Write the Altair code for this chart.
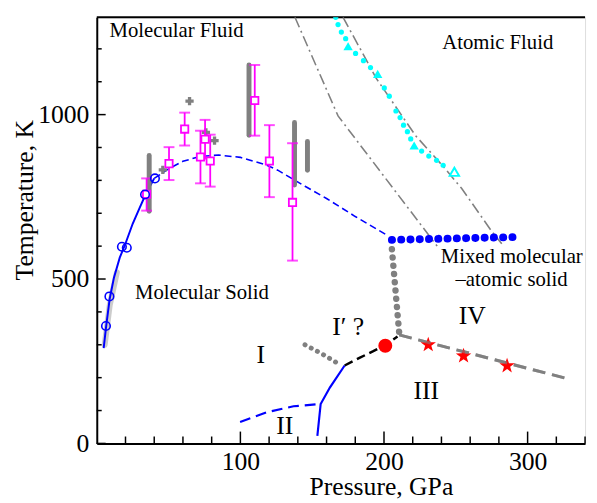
import altair as alt
import pandas as pd

P_MAX = 340
T_MAX = 1296
W = 495
H = 432
FONT = "Liberation Serif"

# ---- data ----
melt_solid_P = [4.8, 6.5, 9, 12, 16, 20, 25, 30, 34, 40]
melt_solid_T = [290, 355, 440, 505, 565, 608, 668, 718, 757, 806]
melt_band_P = [5.5, 9, 14]
melt_band_T = [300, 420, 520]
melt_dash_P = [40, 50, 60, 72, 85, 100, 118, 126, 145, 160, 180, 201]
melt_dash_T = [806, 835, 858, 873, 877, 870, 847, 831, 782, 745, 690, 636]

circ_P = [6.4, 8.8, 17.5, 20.9, 33.6, 40.5]
circ_T = [357, 447, 598, 595, 757, 806]

sq_P = [34.7, 50.3, 61.2, 72.2, 75.4, 79.0, 110, 120.2, 136.3]
sq_T = [758, 851, 956, 871, 925, 859, 1043, 859, 733]
sq_lo = [708, 801, 906, 791, 866, 781, 936, 749, 556]
sq_hi = [806, 901, 1006, 951, 984, 939, 1151, 968, 913]

bar_P = [36.5, 106, 137.7, 146.7]
bar_lo = [706, 937, 786, 831]
bar_hi = [876, 1151, 976, 918]

plus_P = [46, 64.6, 76, 82]
plus_T = [832, 1041, 946, 921]

cyan_P = [166.4, 168, 170.3, 173.3, 180.2, 185.7, 190.6, 200.2, 203.7, 208.3,
          211.2, 213.6, 216.3, 218.6, 226.2, 231.2, 236.6, 241.2]
cyan_T = [1296, 1274, 1251, 1231, 1186, 1164, 1143, 1081, 1056, 1011,
          991, 968, 948, 926, 889, 874, 861, 846]
tri_P = [175, 195.6, 221]
tri_T = [1208, 1124, 906]
tri_open_P = [249]
tri_open_T = [826]

dd_a_P = [138, 168, 237]
dd_a_T = [1296, 996, 600]
dd_b_P = [171.5, 194.5, 222, 240.5, 254, 275, 282]
dd_b_T = [1296, 1111, 936, 846, 776, 645, 607]

mixed_P = [205.5, 295]
mixed_T = [619, 628]
vdot_P = [205.5, 210.6]
vdot_T = [591, 335]
iii_iv_P = [210.6, 326.7]
iii_iv_T = [330, 198]
star_P = [230.8, 255.4, 285.7]
star_T = [300, 266, 236]
red_P = [200.9]
red_T = [297]
black_P = [172.6, 182.9, 192.2, 201, 209.4]
black_T = [237, 260, 280, 300, 325]
i_ip_P = [145, 157, 170.3]
i_ip_T = [300, 272, 237]
i_iii_P = [153.6, 155.9, 162.3, 172.6]
i_iii_T = [23, 120, 170, 237]
i_ii_P = [99.8, 118.6, 137, 155.9]
i_ii_T = [65, 95, 113, 120]

labels = ["Molecular Fluid", "Atomic Fluid", "Molecular Solid", "Mixed molecular",
          "\u2013atomic solid"]
label_P = [8.9, 240.6, 26.6, 239.5, 249.8]
label_T = [1235, 1200, 438, 550, 480]
roman = ["IV", "I\u2032 ?", "I", "II", "III"]
roman_P = [252, 164, 111.3, 125, 220.5]
roman_T = [363, 330, 245, 28, 135]

x_major = [100, 200, 300]
x_minor = [20, 40, 60, 80, 120, 140, 160, 180, 220, 240, 260, 280, 320, 340]
y_major = [0, 500, 1000]
y_minor = [100, 200, 300, 400, 600, 700, 800, 900, 1100, 1200]

# ---- encodings ----
xs = alt.Scale(domain=[0, P_MAX], nice=False, zero=False)
ys = alt.Scale(domain=[0, T_MAX], nice=False, zero=False)
xaxis = alt.Axis(values=x_major, ticks=False, grid=False, labelFont=FONT, labelFontSize=26,
                 labelColor="black", labelPadding=5, domainColor="black", domainWidth=2,
                 title="Pressure, GPa", titleFont=FONT, titleFontSize=26, titleFontWeight="normal",
                 titleColor="black", titleX=288, titleY=52, titleBaseline="alphabetic",
                 titleAlign="center", format="d")
yaxis = alt.Axis(values=y_major, ticks=False, grid=False, labelFont=FONT, labelFontSize=26,
                 labelColor="black", labelPadding=8, domainColor="black", domainWidth=2,
                 title="Temperature, K", titleFont=FONT, titleFontSize=26, titleFontWeight="normal",
                 titleColor="black", titleX=-65, titleY=185, titleBaseline="alphabetic",
                 titleAlign="center", format="d")


def X(field="P"):
    return alt.X(f"{field}:Q", scale=xs, axis=xaxis)


def Y(field="T"):
    return alt.Y(f"{field}:Q", scale=ys, axis=yaxis)


def df(P, T, **extra):
    d = pd.DataFrame({"P": P, "T": T})
    for k, v in extra.items():
        d[k] = v
    d["o"] = range(len(d))
    return d


def line(P, T, color, width, dash=None, cap="butt", opacity=1.0):
    kw = dict(color=color, strokeWidth=width, strokeCap=cap, opacity=opacity, clip=True)
    if dash is not None:
        kw["strokeDash"] = dash
    return alt.Chart(df(P, T)).mark_line(**kw).encode(x=X(), y=Y(), order="o:Q")


layers = []
# frame top line
layers.append(alt.Chart(df([0], [0])).mark_rule(color="black", strokeWidth=2).encode(
    x=alt.value(0), x2=alt.value(W), y=alt.value(0)))
# ticks (inward)
layers.append(alt.Chart(df(x_minor, [0] * len(x_minor))).mark_rule(color="black", strokeWidth=1.5).encode(
    x=X(), y=alt.value(H), y2=alt.value(H - 7)))
layers.append(alt.Chart(df(x_major, [0] * len(x_major))).mark_rule(color="black", strokeWidth=1.5).encode(
    x=X(), y=alt.value(H), y2=alt.value(H - 12)))
layers.append(alt.Chart(df([0] * len(y_minor), y_minor)).mark_rule(color="black", strokeWidth=1.5).encode(
    y=Y(), x=alt.value(0), x2=alt.value(5)))
layers.append(alt.Chart(df([0] * len(y_major), y_major)).mark_rule(color="black", strokeWidth=1.5).encode(
    y=Y(), x=alt.value(0), x2=alt.value(9)))

# gray dash-dot lines
layers.append(line(dd_a_P, dd_a_T, "gray", 1.6, [11, 4, 2, 4]))
layers.append(line(dd_b_P, dd_b_T, "gray", 1.6, [11, 4, 2, 4]))

# melting curve
layers.append(line(melt_band_P, melt_band_T, "#999999", 6, opacity=0.5, cap="round"))
layers.append(line(melt_solid_P, melt_solid_T, "blue", 2))
layers.append(line(melt_dash_P, melt_dash_T, "blue", 1.6, [7, 4]))

# gray thick bars
layers.append(alt.Chart(pd.DataFrame({"P": bar_P, "lo": bar_lo, "hi": bar_hi})).mark_rule(
    color="gray", strokeWidth=5, strokeCap="round").encode(
    x=X(), y=alt.Y("lo:Q", scale=ys, axis=yaxis), y2="hi:Q"))
# gray plus
layers.append(alt.Chart(df(plus_P, plus_T)).mark_point(
    shape="cross", filled=True, color="gray", size=70, opacity=1).encode(x=X(), y=Y()))

# magenta error bars
err = pd.DataFrame({"P": sq_P, "T": sq_T, "lo": sq_lo, "hi": sq_hi})
layers.append(alt.Chart(err).mark_rule(color="magenta", strokeWidth=1.8).encode(
    x=X(), y=alt.Y("lo:Q", scale=ys, axis=yaxis), y2="hi:Q"))
layers.append(alt.Chart(err).mark_tick(orient="horizontal", color="magenta", size=11, thickness=2).encode(
    x=X(), y=alt.Y("lo:Q", scale=ys, axis=yaxis)))
layers.append(alt.Chart(err).mark_tick(orient="horizontal", color="magenta", size=11, thickness=2).encode(
    x=X(), y=alt.Y("hi:Q", scale=ys, axis=yaxis)))
layers.append(alt.Chart(err).mark_point(shape="square", filled=True, color="white", size=55, opacity=1).encode(
    x=X(), y=Y()))
layers.append(alt.Chart(err).mark_point(shape="square", filled=False, color="magenta", size=55,
                                        strokeWidth=1.8, opacity=1).encode(x=X(), y=Y()))

# blue circles
layers.append(alt.Chart(df(circ_P, circ_T)).mark_point(
    shape="circle", filled=False, color="blue", size=75, strokeWidth=1.6, opacity=1).encode(x=X(), y=Y()))

# cyan
layers.append(alt.Chart(df(cyan_P, cyan_T)).mark_point(
    shape="circle", filled=True, color="cyan", size=28, opacity=1, clip=True).encode(x=X(), y=Y()))
layers.append(alt.Chart(df(tri_P, tri_T)).mark_point(
    shape="triangle-up", filled=True, color="cyan", size=90, opacity=1).encode(x=X(), y=Y()))
layers.append(alt.Chart(df(tri_open_P, tri_open_T)).mark_point(
    shape="triangle-up", filled=False, color="cyan", size=90, strokeWidth=2, opacity=1).encode(x=X(), y=Y()))

# low-T phase lines
layers.append(line(i_ii_P, i_ii_T, "blue", 2.2, [11, 6]))
layers.append(line(i_iii_P, i_iii_T, "blue", 2.2))
layers.append(line(i_ip_P, i_ip_T, "gray", 5, [0.1, 7], cap="round"))
layers.append(line(black_P, black_T, "black", 2.5, [9, 5]))
layers.append(line(iii_iv_P, iii_iv_T, "gray", 3, [13, 7]))
layers.append(line(vdot_P, vdot_T, "gray", 6.5, [0.1, 8.3], cap="round"))
layers.append(line(mixed_P, mixed_T, "blue", 8, [0.1, 9.3], cap="round"))

star = ("M0,-1L0.235,-0.324L0.951,-0.309L0.380,0.124L0.588,0.809L0,0.4L-0.588,0.809"
        "L-0.380,0.124L-0.951,-0.309L-0.235,-0.324Z")
layers.append(alt.Chart(df(star_P, star_T)).mark_point(
    shape=star, filled=True, color="red", size=270, opacity=1).encode(x=X(), y=Y()))
layers.append(line(iii_iv_P, iii_iv_T, "gray", 3, [13, 7], opacity=0.6))
layers.append(alt.Chart(df(red_P, red_T)).mark_point(
    shape="circle", filled=True, color="red", size=200, opacity=1).encode(x=X(), y=Y()))

# texts
layers.append(alt.Chart(df(label_P, label_T, txt=labels)).mark_text(
    font=FONT, fontSize=21, align="left", baseline="alphabetic", color="black").encode(
    x=X(), y=Y(), text="txt:N"))
layers.append(alt.Chart(df(roman_P, roman_T, txt=roman)).mark_text(
    font=FONT, fontSize=26, align="left", baseline="alphabetic", color="black").encode(
    x=X(), y=Y(), text="txt:N"))

chart = alt.layer(*layers).properties(
    width=W, height=H,
    padding={"left": 90, "top": 6, "right": 4, "bottom": 58},
    autosize=alt.AutoSizeParams(type="none"),
).configure_view(stroke=None).configure(background="white")

chart.save("out.html", embed_options={"renderer": "svg", "actions": False})
